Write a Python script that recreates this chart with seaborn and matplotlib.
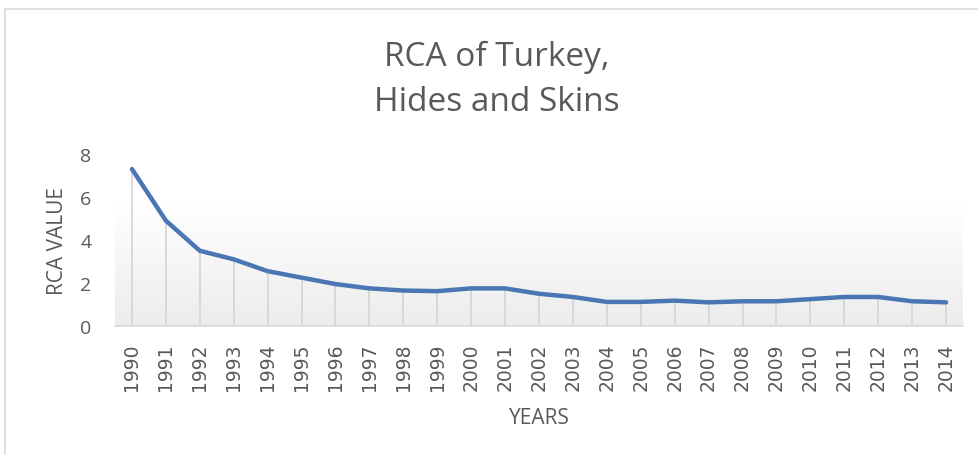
import numpy as np
import pandas as pd
import matplotlib
matplotlib.use("Agg")
import matplotlib.pyplot as plt
import seaborn as sns
from matplotlib.patches import Rectangle

years = [str(y) for y in range(1990, 2015)]
rca_values = [7.3, 4.9, 3.5, 3.1, 2.55, 2.25, 1.95, 1.75, 1.65, 1.62, 1.75, 1.75,
              1.5, 1.35, 1.12, 1.12, 1.18, 1.1, 1.15, 1.15, 1.25, 1.35, 1.35, 1.15, 1.1]
y_ticks = [0, 2, 4, 6, 8]

df = pd.DataFrame({"year": years, "rca": rca_values})
df["pos"] = np.arange(len(years))

sns.set_theme(style="white")
plt.rcParams["font.family"] = ["Open Sans", "DejaVu Sans"]

fig = plt.figure(figsize=(9.79, 4.56), dpi=100)
ax = fig.add_axes([115 / 979, 1 - 327 / 456, (963 - 115) / 979, (327 - 155) / 456])

# chart frame
fig.patches.append(Rectangle((5 / 979, -0.1), 1.2, 1 - 10 / 456 + 0.1,
                             transform=fig.transFigure, fill=False,
                             edgecolor="#d9d9d9", linewidth=1.2))

# gradient plot-area background
grad = np.linspace(0, 1, 256).reshape(-1, 1)
cmap = matplotlib.colors.LinearSegmentedColormap.from_list("g", ["#ececec", "#ffffff"])
ax.imshow(grad, aspect="auto", cmap=cmap, origin="lower",
          extent=(-0.5, 24.5, 0, 5.7), zorder=0)

# drop lines
ax.vlines(df["pos"], 0, df["rca"], colors="#d4d4d4", linewidth=1.2, zorder=1)

sns.lineplot(data=df, x="pos", y="rca", ax=ax, color="#4a76b4", linewidth=3.2,
             zorder=3, solid_capstyle="round", solid_joinstyle="round")

ax.set_xlim(-0.5, 24.5)
ax.set_ylim(0, 8)
ax.set_yticks(y_ticks)
ax.set_yticklabels([str(t) for t in y_ticks], fontsize=14, color="#595959")
ax.set_xticks(df["pos"])
ax.set_xticklabels(years, rotation=90, fontsize=13.5, color="#595959",
                   family=["DejaVu Sans"])
ax.tick_params(axis="both", length=0)
ax.tick_params(axis="y", pad=17)
ax.tick_params(axis="x", pad=12)

for s in ["top", "right", "left"]:
    ax.spines[s].set_visible(False)
ax.spines["bottom"].set_color("#d9d9d9")
ax.spines["bottom"].set_linewidth(1.2)

ax.set_xlabel("YEARS", fontsize=15, color="#595959", labelpad=12)
ax.set_ylabel("RCA VALUE", fontsize=15, color="#595959", labelpad=9)
ax.set_facecolor("none")

fig.text(497 / 979, 1 - 80 / 456, "RCA of Turkey,\nHides and Skins", ha="center",
         va="center", fontsize=24, color="#595959", linespacing=1.45)

fig.savefig("out.png", dpi=100)
